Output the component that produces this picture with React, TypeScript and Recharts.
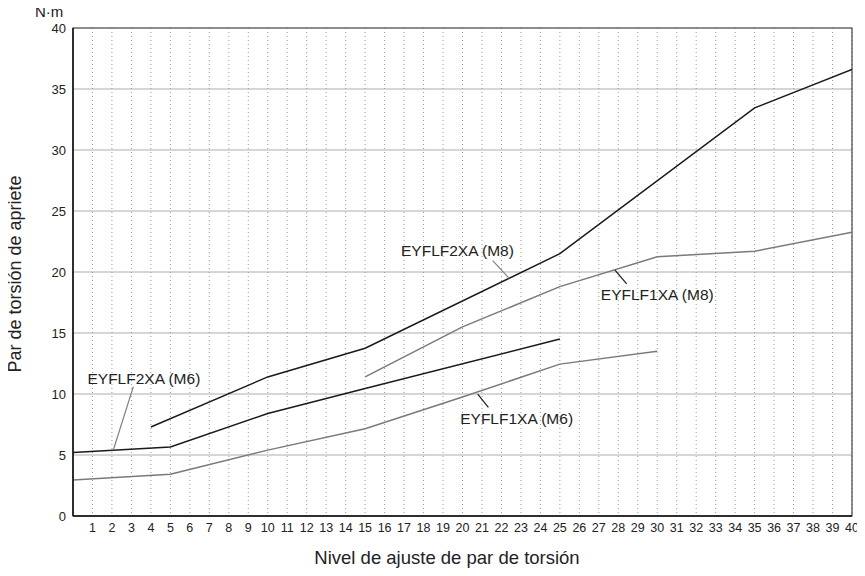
import { LineChart, Line, XAxis, YAxis, CartesianGrid, ReferenceArea, ReferenceLine, ReferenceDot } from "recharts";

// x = nivel de ajuste, y = N·m
const f2xaM8 = [
    { x: 4, y: 7.3 },
    { x: 10, y: 11.4 },
    { x: 15, y: 13.75 },
    { x: 25, y: 21.5 },
    { x: 35, y: 33.45 },
    { x: 40, y: 36.6 },
];
const f2xaM6 = [
    { x: 0, y: 5.2 },
    { x: 5, y: 5.65 },
    { x: 10, y: 8.4 },
    { x: 15, y: 10.45 },
    { x: 25, y: 14.5 },
];
const f1xaM8 = [
    { x: 15, y: 11.4 },
    { x: 20, y: 15.5 },
    { x: 25, y: 18.8 },
    { x: 30, y: 21.25 },
    { x: 35, y: 21.7 },
    { x: 40, y: 23.25 },
];
const f1xaM6 = [
    { x: 0, y: 2.95 },
    { x: 5, y: 3.42 },
    { x: 10, y: 5.4 },
    { x: 15, y: 7.15 },
    { x: 20, y: 9.75 },
    { x: 25, y: 12.45 },
    { x: 30, y: 13.5 },
];

const xTicks = Array.from({ length: 40 }, (_, i) => i + 1);
const yTicks = [0, 5, 10, 15, 20, 25, 30, 35, 40];

// series callouts: text position + leader line (data coords)
const callouts = [
    { name: "EYFLF2XA (M8)", x: 19.74, y: 21.75, from: [21.55, 20.93], to: [22.4, 19.48], leader: "#808080" },
    { name: "EYFLF1XA (M8)", x: 30.0, y: 18.17, from: [27.83, 20.16], to: [28.43, 19.02], leader: "#1a1a1a" },
    { name: "EYFLF1XA (M6)", x: 22.78, y: 8.01, from: [20.78, 9.98], to: [21.33, 8.91], leader: "#1a1a1a" },
    { name: "EYFLF2XA (M6)", x: 3.64, y: 11.29, from: [3.1, 10.6], to: [2.07, 5.41], leader: "#808080" },
];

const FONT = "'Liberation Sans', Arial, sans-serif";

export default function App() {
    return (
        <div style={{ position: "relative", width: 857, height: 560, fontFamily: FONT }}>
            <LineChart width={857} height={560} margin={{ top: 20, right: 13, bottom: 22, left: 5 }}>
                <CartesianGrid vertical={false} stroke="#c8c8c8" strokeWidth={1.5} />
                <CartesianGrid horizontal={false} stroke="#9a9a9a" strokeDasharray="1 3" />
                <XAxis
                    type="number"
                    dataKey="x"
                    domain={[0, 40]}
                    ticks={xTicks}
                    interval={0}
                    tickLine={false}
                    tickSize={4}
                    tickMargin={3}
                    axisLine={{ stroke: "#111", strokeWidth: 1.5 }}
                    tick={{ fontSize: 12.5, fill: "#222", fontFamily: FONT }}
                    allowDataOverflow
                />
                <YAxis
                    type="number"
                    domain={[0, 40]}
                    ticks={yTicks}
                    width={60}
                    tickLine={false}
                    tickSize={5}
                    tickMargin={2}
                    axisLine={{ stroke: "#111", strokeWidth: 1.5 }}
                    tick={{ fontSize: 13, fill: "#222", fontFamily: FONT }}
                />
                <ReferenceArea x1={0} x2={40} y1={0} y2={40} fill="none" stroke="#444" strokeWidth={1.2} />
                <Line data={f1xaM6} dataKey="y" stroke="#7a7a7a" strokeWidth={1.5} dot={false} isAnimationActive={false} />
                <Line data={f1xaM8} dataKey="y" stroke="#7a7a7a" strokeWidth={1.5} dot={false} isAnimationActive={false} />
                <Line data={f2xaM6} dataKey="y" stroke="#1a1a1a" strokeWidth={1.5} dot={false} isAnimationActive={false} />
                <Line data={f2xaM8} dataKey="y" stroke="#1a1a1a" strokeWidth={1.5} dot={false} isAnimationActive={false} />
                {callouts.map((c) => (
                    <ReferenceLine
                        key={c.name + "-l"}
                        segment={[
                            { x: c.from[0], y: c.from[1] },
                            { x: c.to[0], y: c.to[1] },
                        ]}
                        stroke={c.leader}
                        strokeWidth={1.2}
                    />
                ))}
                {callouts.map((c) => (
                    <ReferenceDot
                        key={c.name}
                        x={c.x}
                        y={c.y}
                        r={0}
                        shape={(p: any) => (
                            <text
                                x={p.cx}
                                y={p.cy}
                                textAnchor="middle"
                                dominantBaseline="central"
                                fontSize={15.5}
                                fill="#222"
                                fontFamily={FONT}
                            >
                                {c.name}
                            </text>
                        )}
                    />
                ))}
            </LineChart>
            <div style={{ position: "absolute", left: 27, top: -5, fontSize: 15, lineHeight: "17px", color: "#222" }}>
                N·m
            </div>
            <div
                style={{
                    position: "absolute",
                    left: 7,
                    top: 266,
                    fontSize: 18,
                    color: "#222",
                    transform: "translate(-50%, -50%) rotate(-90deg)",
                    whiteSpace: "nowrap",
                }}
            >
                Par de torsión de apriete
            </div>
            <div
                style={{
                    position: "absolute",
                    left: 439,
                    top: 550,
                    fontSize: 18.5,
                    lineHeight: "20px",
                    color: "#222",
                    transform: "translate(-50%, -50%)",
                    whiteSpace: "nowrap",
                }}
            >
                Nivel de ajuste de par de torsión
            </div>
        </div>
    );
}
